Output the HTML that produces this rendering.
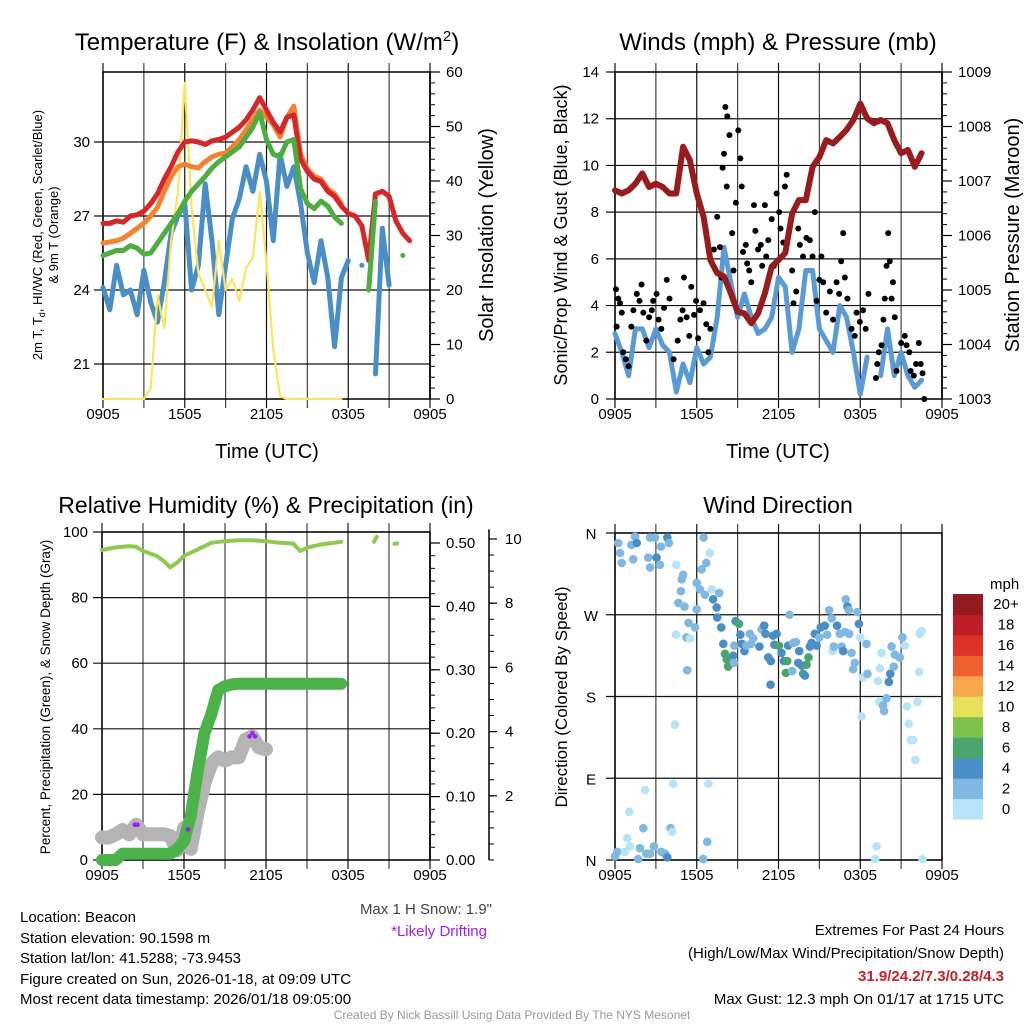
<!DOCTYPE html>
<html><head><meta charset="utf-8"><style>
html,body{margin:0;padding:0;background:#fff}
svg{display:block;font-family:"Liberation Sans",sans-serif}
</style></head><body>
<svg id="c" width="1024" height="1024" viewBox="0 0 1024 1024">
<rect x="0" y="0" width="1024" height="1024" fill="#fff"/>
<g id="g1"></g>
<g id="g2"></g>
<g id="g3"></g>
<g id="g4"></g>
<g font-size="24" text-anchor="middle" fill="#000">
<text x="267" y="50">Temperature (F) &amp; Insolation (W/m<tspan dy="-9" font-size="15">2</tspan><tspan dy="9">)</tspan></text>
<text x="778" y="50">Winds (mph) &amp; Pressure (mb)</text>
<text x="266" y="513" font-size="23">Relative Humidity (%) &amp; Precipitation (in)</text>
<text x="778" y="513" font-size="23">Wind Direction</text>
</g>
<g fill="#000" text-anchor="middle">
<text x="267" y="458" font-size="20">Time (UTC)</text>
<text x="778" y="458" font-size="20">Time (UTC)</text>
<text transform="translate(42,235) rotate(-90)" font-size="13">2m T, T<tspan dy="3" font-size="9">d</tspan><tspan dy="-3">, HI/WC (Red, Green, Scarlet/Blue)</tspan></text>
<text transform="translate(58,235) rotate(-90)" font-size="13">&amp; 9m T (Orange)</text>
<text transform="translate(493,235) rotate(-90)" font-size="20">Solar Insolation (Yellow)</text>
<text transform="translate(567,235) rotate(-90)" font-size="18">Sonic/Prop Wind &amp; Gust (Blue, Black)</text>
<text transform="translate(1019,235) rotate(-90)" font-size="20">Station Pressure (Maroon)</text>
<text transform="translate(50,697) rotate(-90)" font-size="13.5">Percent, Precipitation (Green), &amp; Snow Depth (Gray)</text>
<text transform="translate(567,697) rotate(-90)" font-size="17">Direction (Colored By Speed)</text>
</g>
<g font-size="15" fill="#000">
<text x="20" y="922">Location: Beacon</text>
<text x="20" y="943">Station elevation: 90.1598 m</text>
<text x="20" y="963">Station lat/lon: 41.5288; -73.9453</text>
<text x="20" y="984">Figure created on Sun, 2026-01-18, at 09:09 UTC</text>
<text x="20" y="1004">Most recent data timestamp: 2026/01/18 09:05:00</text>
<text x="492" y="914" text-anchor="end" fill="#444">Max 1 H Snow: 1.9"</text>
<text x="487" y="936" text-anchor="end" fill="#a020f0">*Likely Drifting</text>
<text x="1004" y="935" text-anchor="end">Extremes For Past 24 Hours</text>
<text x="1004" y="958" text-anchor="end">(High/Low/Max Wind/Precipitation/Snow Depth)</text>
<text x="1004" y="981" text-anchor="end" fill="#c8202a" font-weight="bold">31.9/24.2/7.3/0.28/4.3</text>
<text x="1004" y="1004" text-anchor="end">Max Gust: 12.3 mph On 01/17 at 1715 UTC</text>
<text x="512" y="1019" text-anchor="middle" font-size="12" fill="#999">Created By Nick Bassill Using Data Provided By The NYS Mesonet</text>
</g>
</svg>
<script>
// ---------- data ----------
const timeLabels = ["0905","1505","2105","0305","0905"];
const tempHours = [0,0.5,1,1.5,2,2.5,3,3.5,4,4.5,5,5.5,6,6.5,7,7.5,8,8.5,9,9.5,10,10.5,11,11.5,12,12.5,13,13.5,14,14.5,15,15.5,16,16.5,17,17.5,18,18.5,19,19.5,20,20.5,21,21.5,22,22.5];
const tempRed = [26.7,26.7,26.8,26.75,27.0,27.05,27.2,27.5,27.9,28.5,29.0,29.6,30.0,30.05,30.0,29.9,30.05,30.1,30.2,30.4,30.6,30.9,31.3,31.8,31.3,30.8,30.4,31.0,31.1,29.3,28.8,28.5,28.4,28.0,27.8,27.4,27.1,27.0,26.6,25.2,27.9,28.0,27.8,26.8,26.3,26.0];
const tempOrange = [25.9,25.95,26.0,26.1,26.3,26.5,26.7,27.0,27.35,28.0,28.6,29.0,29.1,29.0,28.95,29.2,29.4,29.5,29.55,29.8,30.1,30.5,30.9,31.3,31.0,30.7,30.2,31.0,31.45,29.5,28.9,28.6,28.5,28.1,27.9,27.5,null,null,null,null,null,null,null,null,null,null];
const tempGreen = [25.4,25.5,25.6,25.6,25.8,25.7,25.45,25.5,25.9,26.3,26.7,27.1,27.6,28.0,28.3,28.6,28.95,29.2,29.4,29.6,29.8,30.2,30.6,31.2,30.1,29.5,29.4,30.0,30.1,28.1,27.5,27.3,27.6,27.4,26.95,26.7,null,null,null,24.0,27.6,null,null,null,25.4,null];
const tempBlue = [24.1,23.2,25.0,23.8,24.0,23.0,24.8,23.5,22.7,24.3,26.3,27.0,27.5,24.0,25.0,28.3,26.0,23.0,25.0,26.9,27.7,29.0,28.0,29.5,28.4,26.0,29.5,28.2,29.0,27.5,25.5,24.3,26.0,24.5,21.7,24.5,25.2,null,25.0,null,20.6,26.5,24.2,null,null,null];
const solar = [0,0,0,0,0,0,0,2,19,13,29,38,58,35,23,20,17,29,20,22,18,24,26,38,25,9,0.5,0,0,0,0,0,0,0,0,0,null,null,null,null,null,null,null,null,null,null];
const tempTicks = [21,24,27,30];
const solarTicks = [0,10,20,30,40,50,60];

const windHours = tempHours;
const windSpeed = [2.8,2.0,1.0,3.0,3.0,2.2,3.0,2.3,2.0,0.3,1.5,0.7,2.2,1.5,1.8,3.5,6.5,5.0,3.5,4.5,3.5,2.8,3.0,3.5,5.2,4.8,2.0,3.0,5.5,5.5,3.0,2.5,2.0,4.0,3.5,2.0,0.2,1.8,null,1.0,3.0,1.0,2.0,1.0,0.5,0.8];
const pressure = [1006.83,1006.77,1006.83,1006.95,1007.14,1006.89,1006.95,1006.89,1006.77,1006.77,1007.63,1007.38,1006.77,1006.34,1005.55,1005.31,1005.25,1004.94,1004.6,1004.57,1004.39,1004.57,1004.94,1005.43,1005.55,1005.68,1006.4,1006.65,1006.65,1007.26,1007.44,1007.75,1007.69,1007.81,1007.94,1008.12,1008.42,1008.15,1008.06,1008.12,1008.06,1007.75,1007.51,1007.57,1007.26,1007.51];
const gustHours = [0.07,0.12,0.24,0.37,0.5,0.6,0.8,1.0,1.2,1.35,1.6,1.8,1.95,2.08,2.3,2.5,2.7,2.8,3.05,3.2,3.4,3.6,3.8,4.0,4.3,4.6,4.8,4.96,5.06,5.26,5.45,5.6,5.8,5.95,6.1,6.23,6.5,6.7,6.85,7.0,7.26,7.5,7.7,7.8,7.9,8.0,8.1,8.24,8.4,8.2,8.6,8.7,8.87,9.05,9.2,9.3,9.4,9.6,9.7,9.85,10.0,10.2,10.3,10.5,10.7,10.8,11.0,11.1,11.25,11.5,11.66,11.86,12.05,12.15,12.35,12.47,12.6,12.8,13.0,13.1,13.3,13.45,13.57,13.8,14.05,14.3,14.5,14.67,14.8,15.0,15.15,15.28,15.5,15.77,16.0,16.26,16.45,16.6,16.75,16.87,17.06,17.36,17.6,17.73,17.97,18.2,18.4,18.6,19.15,19.25,19.36,19.56,19.7,19.8,19.93,20.05,20.17,20.3,20.4,20.53,20.66,21.0,21.27,21.4,21.6,21.7,21.93,22.1,22.3,22.44,22.57,22.7];
const gustValues = [4.7,3.1,4.3,4.1,3.7,2.0,1.7,1.4,3.1,3.8,4.5,4.2,4.9,3.7,2.5,3.5,3.8,4.2,4.5,3.4,3.0,3.9,5.1,4.3,1.7,2.5,3.4,3.8,5.2,3.5,2.7,4.8,3.6,4.2,2.6,3.8,4.1,3.2,2.0,3.0,6.4,7.8,6.5,5.2,9.9,10.5,12.5,12.1,11.3,9.1,7.1,5.5,8.4,11.5,10.3,9.1,6.3,6.6,5.8,5.5,5.0,8.3,7.2,6.4,6.6,5.7,8.3,6.1,6.8,7.7,5.7,8.8,8.0,7.3,6.7,9.1,9.6,7.3,5.5,4.1,4.6,7.3,6.6,6.1,6.9,6.8,6.1,8.0,4.2,5.1,6.1,5.0,3.7,4.6,3.4,5.0,4.5,5.9,7.1,5.2,4.3,3.0,2.7,3.7,3.3,3.8,3.0,4.5,0.9,1.5,2.0,2.3,3.4,4.3,5.7,7.1,5.9,4.3,5.0,3.5,1.2,2.4,2.7,2.3,2.0,1.2,1.0,1.5,2.4,1.5,1.1,0.0];
const windTicks = [0,2,4,6,8,10,12,14];
const pressureTicks = [1003,1004,1005,1006,1007,1008,1009];

const rhHours = [0,1,2,2.5,3,4,4.5,5,5.5,6,7,8,9,10,11,12,13,14,14.5,15,16,17,17.5,null,19.9,20.1,null,21.4,21.6];
const rhValues = [94.5,95.3,95.7,95.5,94.2,92.7,91.2,89.2,90.7,92.7,94.7,96.7,97.2,97.5,97.5,97.2,96.7,96.5,94.2,95.2,96.2,96.7,97.0,null,97.0,98.5,null,96.4,96.5];
const precipHours = [0,1,1.5,2,3,4,5,5.5,6,6.5,7,7.5,8,8.5,9,9.5,10,11,12,13,14,15,16,17,17.5];
const precipValues = [0,0,0.01,0.01,0.01,0.01,0.01,0.017,0.03,0.07,0.14,0.2,0.23,0.268,0.274,0.277,0.278,0.278,0.278,0.278,0.278,0.278,0.278,0.278,0.278];
const snowHours = [0,0.5,1,1.5,2,2.5,3,3.5,4,4.5,5,5.5,5.8,6,6.5,7,7.5,8,8.5,9,9.5,10,10.5,11,11.5,12];
const snowValues = [0.7,0.7,0.8,0.93,0.8,1.1,0.8,0.8,0.8,0.8,0.75,0.3,0.5,1.0,0.35,1.5,2.4,3.0,3.2,3.1,3.2,3.2,3.75,3.85,3.5,3.45];
const driftHours = [2.4,2.6,6.3,10.8,11.0,11.2];
const driftValues = [1.1,1.1,0.95,3.85,3.95,3.85];
const rhTicks = [0,20,40,60,80,100];
const precipTicks = [0,0.1,0.2,0.3,0.4,0.5];
const snowTicks = [2,4,6,8,10];

const dirHours = [0.24,0.37,0.49,1.2,1.47,1.6,1.34,2.44,2.57,2.57,2.93,3.05,3.3,3.37,3.84,3.96,4.5,5.0,4.9,4.84,4.65,5.1,5.4,5.25,5.5,5.3,4.47,4.4,4.28,6.0,6.23,6.0,5.87,6.36,6.7,6.5,6.97,7.1,6.6,7.2,7.46,7.65,7.5,7.8,7.95,8.07,8.2,8.3,8.68,8.73,8.75,8.85,9.1,9.2,9.3,9.5,9.66,9.9,10.15,10.0,10.6,10.76,10.95,11.05,11.25,11.44,11.42,11.6,11.7,11.86,12.03,12.22,12.4,12.54,12.64,12.7,12.8,13.0,13.08,13.28,13.45,13.52,13.7,13.81,13.94,14.06,14.2,14.3,14.43,14.67,14.8,15.0,15.1,15.4,15.57,15.72,15.9,15.97,16.06,16.3,16.5,16.63,16.75,16.94,17.06,17.16,16.87,17.19,17.36,17.48,17.6,17.78,17.9,18.0,18.1,18.2,18.46,18.53,19.3,19.56,19.44,19.4,19.68,19.75,19.93,20.1,20.2,20.3,20.46,20.54,20.9,21.1,21.27,21.44,21.56,21.7,21.88,22.05,22.2,22.32,22.37,22.5,0,0.17,0.73,0.9,1.05,1.1,1.7,1.83,2.08,2.2,2.3,2.57,2.86,3.4,3.67,3.84,4.08,4.2,6.48,6.77,6.85,19.2,19.1,22.57];
const dirDegrees = [349,338,327,347,356,349,331,333,322,355,355,333,325,345,355,349,325,314,309,296,283,279,261,245,244,209,248,149,84,305,298,276,256,320,327,355,338,298,292,287,278,294,267,256,238,227,221,213,225,217,236,263,260,248,238,230,236,249,244,238,235,254,258,249,223,219,193,247,237,249,236,228,219,206,219,236,270,208,239,240,217,230,214,205,203,215,223,235,239,249,236,245,256,258,248,275,266,230,235,258,249,235,230,287,279,275,251,249,228,210,217,273,260,245,158,201,238,205,197,228,211,174,170,164,178,196,205,235,213,226,223,245,236,169,150,132,132,110,174,207,249,252,4,9,9,24,53,15,1,13,35,77,7,7,15,9,7,3,35,31,1,20,84,15,1,1];
const dirSpeeds = [2,2,2,2,2,4,2,2,2,2,2,4,2,2,4,2,0,2,2,2,2,2,2,2,0,2,0,0,0,2,2,2,2,2,2,2,0,0,2,4,4,2,4,4,4,6,6,6,4,2,2,4,6,4,4,4,2,2,2,2,4,2,4,4,4,4,4,4,4,4,6,4,4,6,6,4,2,2,2,2,4,4,4,6,4,6,6,4,4,4,4,2,4,4,2,2,2,0,2,4,2,2,4,2,4,2,2,2,2,2,2,2,4,0,0,0,2,2,0,0,0,0,2,2,2,4,4,2,2,2,2,2,0,0,0,0,0,0,0,0,0,0,2,2,0,0,0,0,2,2,2,0,2,2,2,2,2,4,2,0,2,2,0,0,0,0];
const dirLabels = ["N","E","S","W","N"];
const speedLabels = ["0","2","4","6","8","10","12","14","16","18","20+"];
const speedColors = ["#b6e3f8","#7fb8e2","#4a8ec7","#48a66c","#7cc14b","#e6e05a","#f6a84b","#ef622d","#de3128","#bf1e28","#931a1e"];

// ---------- helpers ----------
const NS="http://www.w3.org/2000/svg";
function mk(parent,tag,attrs){const e=document.createElementNS(NS,tag);for(const k in attrs)e.setAttribute(k,attrs[k]);parent.appendChild(e);return e;}
function linScale(d0,d1,r0,r1){return v=>r0+(v-d0)*(r1-r0)/(d1-d0);}
function pathFrom(xs,ys,fx,fy){let d="",pen=false;for(let i=0;i<xs.length;i++){if(xs[i]==null||ys[i]==null){pen=false;continue;}const X=fx(xs[i]).toFixed(1),Y=fy(ys[i]).toFixed(1);if(!pen){d+=`M${X} ${Y}L${X} ${Y}`;pen=true;}else d+=`L${X} ${Y}`;}return d;}

function frame(g,L,R,T,B,name){
  for(let i=0;i<=8;i++){const x=L+(R-L)*i/8;
    const ln=mk(g,'line',{x1:x,y1:T-9,x2:x,y2:B+9,stroke:(i%2?'#444':'#111'),'stroke-width':1.2});
    
    }
  const r=mk(g,'rect',{x:L,y:T,width:R-L,height:B-T,fill:'none',stroke:'#000','stroke-width':1.5});
  
  
  timeLabels.forEach((t,i)=>{const x=L+(R-L)*i/4;
    const tx=mk(g,'text',{x:x,y:B+20,'font-size':15,'text-anchor':'middle'});tx.textContent=t;
    
    });
}
function hgrid(g,ticks,fy,L,R,name,labelX,fmt,anchor){
  ticks.forEach(v=>{const y=fy(v);
    const ln=mk(g,'line',{x1:L-9,y1:y,x2:R,y2:y,stroke:'#111','stroke-width':1.2});
    
    
    const tx=mk(g,'text',{x:labelX,y:y+5,'font-size':15,'text-anchor':anchor||'end'});tx.textContent=fmt?fmt(v):v;
    
    });
}
function rightAxis(g,x,ticks,fy,minorStep,lo,hi,name,fmt){
  const ax=mk(g,'line',{x1:x,y1:fy(hi),x2:x,y2:fy(lo),stroke:'#000','stroke-width':1.5});
  
  
  for(let v=lo;v<=hi+1e-9;v+=minorStep){const y=fy(v);
    const t=mk(g,'line',{x1:x,y1:y,x2:x+5,y2:y,stroke:'#000','stroke-width':1});
    
    }
  ticks.forEach(v=>{const y=fy(v);
    const t=mk(g,'line',{x1:x,y1:y,x2:x+10,y2:y,stroke:'#000','stroke-width':1.2});
    
    
    const tx=mk(g,'text',{x:x+16,y:y+5,'font-size':15});tx.textContent=fmt?fmt(v):v;
    
    });
}
function series(g,d,color,w,name,op){const p=mk(g,'path',{d:d,fill:'none',stroke:color,'stroke-width':w,'stroke-linejoin':'round','stroke-linecap':'round'});if(op)p.setAttribute('opacity',op);
  
  return p;}

// ---------- panel 1 ----------
{const g=document.getElementById('g1');const L=103,R=430,T=72,B=399;
 const fx=linScale(0,24,L,R), fy=linScale(30,27,142,216), fs=linScale(0,60,B,T);
 frame(g,L,R,T,B,'temp');
 hgrid(g,tempTicks,fy,L,R,'temp',90);
 rightAxis(g,R,solarTicks,fs,2,0,60,'solar');
 series(g,pathFrom(tempHours,tempBlue,fx,fy),'#4a8ec7',5,'dewpoint-line');
 series(g,pathFrom(tempHours,solar,fx,fs),'#fde55b',2.2,'insolation-line');
 series(g,pathFrom(tempHours,tempOrange,fx,fy),'#f5822e',5,'temp-9m-line');
 series(g,pathFrom(tempHours,tempRed,fx,fy),'#d7262a',5,'temp-2m-line');
 series(g,pathFrom(tempHours,tempGreen,fx,fy),'#4cae3e',5,'heat-index-line');}

// ---------- panel 2 ----------
{const g=document.getElementById('g2');const L=615,R=942,T=72,B=399;
 const fx=linScale(0,24,L,R), fy=linScale(0,14,B,T), fp=linScale(1003,1009,B,T);
 frame(g,L,R,T,B,'wind');
 hgrid(g,windTicks,fy,L,R,'wind',599);
 rightAxis(g,R,pressureTicks,fp,0.2,1003,1009,'pressure');
 series(g,pathFrom(windHours,windSpeed,fx,fy),'#5b9bd5',5,'wind-speed-line');
 gustHours.forEach((h,i)=>{const c=mk(g,'circle',{cx:fx(h),cy:fy(gustValues[i]),r:3,fill:'#000'});
   
   });
 series(g,pathFrom(windHours,pressure,fx,fp),'#981b1e',6,'pressure-line');}

// ---------- panel 3 ----------
{const g=document.getElementById('g3');const L=102,R=430,T=532,B=860;
 const fx=linScale(0,24,L,R), fy=linScale(0,100,B,T), fp=linScale(0,0.5,B,543), fsn=linScale(0,10,B,539);
 frame(g,L,R,T,B,'rh');
 hgrid(g,rhTicks,fy,L,R,'rh',88);
 rightAxis(g,R,precipTicks,fp,0.02,0,0.5,'precip',v=>v.toFixed(2));
 const ax=mk(g,'line',{x1:489,y1:fsn(10.3),x2:489,y2:B,stroke:'#000','stroke-width':1.5});
 
 
 for(let v=0;v<=10.01;v+=0.5){const t=mk(g,'line',{x1:489,y1:fsn(v),x2:494,y2:fsn(v),stroke:'#000','stroke-width':1});
   
   }
 snowTicks.forEach(v=>{const y=fsn(v);const t=mk(g,'line',{x1:489,y1:y,x2:497,y2:y,stroke:'#000','stroke-width':1.2});
   
   
   const tx=mk(g,'text',{x:505,y:y+5,'font-size':15});tx.textContent=v;
   
   });
 series(g,pathFrom(rhHours,rhValues,fx,fy),'#8dcb4f',4,'humidity-line');
 series(g,pathFrom(snowHours,snowValues,fx,fsn),'#b4b4b4',14,'snow-depth-line');
 series(g,pathFrom(precipHours,precipValues,fx,fp),'#4bb34a',12,'precip-line');
 driftHours.forEach((h,i)=>{const c=mk(g,'circle',{cx:fx(h),cy:fsn(driftValues[i]),r:2.3,fill:'#a020f0'});
   
   });}

// ---------- panel 4 ----------
{const g=document.getElementById('g4');const L=615,R=942,T=533,B=860;
 const fx=linScale(0,24,L,R), fy=linScale(0,360,B,T);
 frame(g,L,R,T,B,'dir');
 dirLabels.forEach((lab,i)=>{const y=fy(i*90);
   const ln=mk(g,'line',{x1:L-9,y1:y,x2:R,y2:y,stroke:'#111','stroke-width':1.2});
   
   
   const tx=mk(g,'text',{x:591,y:y+6,'font-size':15,'text-anchor':'middle'});tx.textContent=lab;
   
   });
 dirHours.forEach((h,i)=>{const c=mk(g,'circle',{cx:fx(h),cy:fy(dirDegrees[i]),r:4.3,fill:speedColors[dirSpeeds[i]/2]});
   
   });
 const mph=mk(g,'text',{x:990,y:589,'font-size':15});mph.textContent='mph';
 
 
 const cbT=594,cbB=819,n=speedColors.length,bh=(cbB-cbT)/n;
 speedColors.forEach((col,i)=>{const y=cbB-(i+1)*bh;
   const r=mk(g,'rect',{x:953,y:y,width:30,height:bh+0.5,fill:col});
   
   
   const tx=mk(g,'text',{x:1006,y:y+bh/2+5,'font-size':15,'text-anchor':'middle'});tx.textContent=speedLabels[i];
   
   });}
</script>
</body></html>
